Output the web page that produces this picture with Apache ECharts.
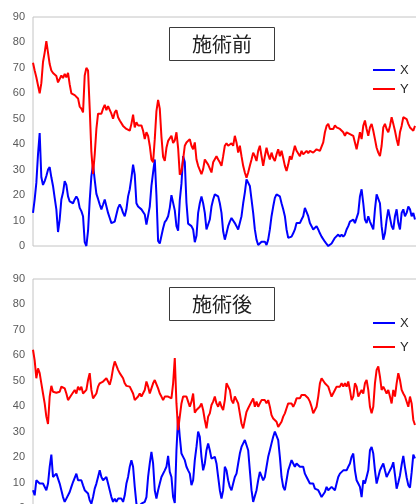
<!DOCTYPE html>
<html>
<head>
<meta charset="utf-8">
<script src="https://cdn.jsdelivr.net/npm/echarts@6/dist/echarts.min.js"></script>
<style>
  html, body { margin: 0; padding: 0; background: #fff; }
  #chart { width: 416px; height: 504px; }
</style>
</head>
<body>
<div id="chart"></div>
<script>
// y axis ticks (both panels)
const yTicks = [0, 10, 20, 30, 40, 50, 60, 70, 80, 90];
const seriesNames = ['X', 'Y'];
const panelTitles = ['施術前', '施術後'];

// 施術前 (before)
const beforeX = [
  13, 18.3, 24.8, 36, 44.4, 27, 24, 25.5, 27.5, 30,
  31, 27, 23.6, 18.9, 14.4, 5.5, 10.4, 18.3, 21, 25.5,
  24, 19.5, 17.5, 17, 16.8, 18.3, 19.5, 18.3, 15, 13.7,
  11.7, 1.5, 0, 6, 18, 27.5, 32, 26, 20.5, 18.5,
  16.3, 14.4, 16.3, 18.3, 18.6, 13, 11, 9, 9.6, 9.6,
  12.4, 15, 16.3, 15, 13, 11.7, 14.4, 19.5, 22.3, 26.8,
  32, 28, 16.8, 15.5, 15, 14.4, 13.7, 12.4, 8.4, 9,
  15.5, 23.6, 28.9, 34, 20, 2, 1, 1.5, 7, 9.4,
  10.3, 11.7, 15, 20, 20, 14, 7.8, 6, 18, 24.5,
  35.3, 33, 17, 8.8, 9, 7.8, 6.5, 1.5, 4, 13,
  16.8, 19.5, 16.8, 13, 6.5, 6.5,
  10.4, 15.5, 18.3, 20.3, 21, 19.5, 16.8, 13, 5.8, 2.5,
  5, 7.8, 9.6, 11, 10.4, 9, 7.8, 6.5, 7.1, 11.7,
  16.8, 21, 26.2, 26.2, 23.6, 18.3, 13, 6.5, 2.5, 0.4,
  1, 1.7, 1, 1.7, 0.4, 2.5, 6.5, 11.7, 15.5, 18.9,
  20.3, 21, 19.5, 16.8, 14.4, 11.7, 6.5, 3.2, 2.5, 3.7,
  5, 6.5, 9, 9.6, 9, 10.4, 11.7, 15, 14.4, 11.7,
  9, 7.8, 6.5, 7.1, 7.8, 6.5, 5, 3.7, 3.2, 1.7,
  0.8, 0, 0.4, 1, 1.3, 3.2, 2.5, 4.5, 3.7, 4.5,
  3.7, 4.5, 6.5, 7.8, 9.6, 9.6, 10.4, 9, 9.6, 13,
  19.5, 22.3, 16.8, 10.4, 9, 11.7, 9.6, 9, 6.5, 14.4,
  20.3, 21, 16.8, 7.8, 2.5, 5, 10.4, 14.4, 15, 7.8,
  6.5, 11.7, 14.4, 9, 6.5, 13, 14.4, 11.7, 13, 15.5,
  14.4, 11.7, 13, 10.4
];
const beforeY = [
  72, 69, 66.3, 65.7, 60, 64, 72.3, 76, 80.5, 81,
  71.5, 69, 68, 68, 66.8, 64.3, 65, 67, 66, 67.6,
  66.3, 68, 63.5, 60, 60.5, 59.3, 59.3, 58, 54.8, 54,
  52.5, 67, 70, 69, 54, 37, 28.3, 36, 46, 52,
  52.5, 52, 54, 55.5, 53.4, 55, 55.5, 52, 50, 52.5,
  53.4, 50.6, 49.3, 48.6, 47.2, 46.6, 46, 46.6, 45.3, 48,
  51.6, 46.6, 48.6, 47.4, 48, 47.4, 45.3, 42, 44.7, 43.3,
  39.4, 34, 32.9, 42, 53, 57.4, 54, 43, 35, 33.5,
  38.6, 41.3, 40.7, 43.3, 40.5, 41.5, 44.7, 38.5, 28, 29.5,
  34, 39.4, 40.7, 41.3, 42, 39.4, 38, 40.7, 34, 31.5,
  30.8, 28.2, 30.2, 34, 33.4, 32,
  31.5, 28.9, 32.9, 33.4, 35.3, 34, 32.9, 31.5, 35.3, 39.4,
  40.4, 39.4, 40, 40.4, 39.4, 43.3, 40.7, 36.7, 39.4, 35.3,
  31.5, 28.9, 26.8, 28.9, 31.5, 34, 36.7, 35.3, 33.4, 37.4,
  39.4, 35.3, 31.5, 35.3, 38.6, 36, 34, 36.7, 34.6, 33.4,
  36, 38, 35.3, 37.4, 34.6, 31.5, 29.5, 32, 35.3, 34,
  36.7, 39.4, 37.4, 36.7, 35.3, 37.4, 36, 36.7, 37.4, 36.5,
  37.4, 38, 36.7, 37.4, 38, 37.4, 37.4, 37.4, 40.7, 44.7,
  47.2, 48, 46, 46.6, 46, 47.4, 46.6, 47.2, 46, 46,
  44.7, 43.3, 44.7, 45.3, 44, 44.7, 43.3, 40.7, 38, 41.3,
  44.7, 42, 47.2, 49.3, 46, 43.3, 46.6, 48, 45.3, 42,
  38.6, 36.7, 35.3, 39.4, 46.6, 48, 46, 44.7, 47.2, 50.6,
  48, 45.3, 42, 39.4, 44.7, 47.2, 50.6, 51.2, 49.9, 48,
  46.6, 47.2, 45.3, 47.2
];

// 施術後 (after)
const afterX = [
  7, 5, 10.9, 11.5, 9.6, 9.6, 9.6, 10.2, 7, 9.6,
  16.2, 21, 12.2, 12.9, 13.5, 12.9, 9.6, 7, 4.3, 2.4,
  3.7, 4.3, 6.3, 8.3, 10.2, 10.9, 13.5, 10.9, 11.6, 10.9,
  8.9, 7, 7, 5.7, 3, 1.7, 4.3, 7.6, 9.6, 12.2,
  14.8, 12.2, 10.9, 10.9, 12.2, 9.6, 7, 4.3, 2.4, 3.7,
  2.4, 3.7, 3, 3.7, 2.4, 5, 9.6, 12.2, 16.2, 18.8,
  16.2, 8.3, 1.7, 0.4, 1, 1.7, 1, 2.4, 4.3, 12.2,
  17.5, 22.1, 17.5, 7, 3.7, 7, 9.6, 12.2, 12.9, 14.8,
  16.2, 20.5, 14.2, 12.2, 4.3, 2, 22.7, 35.9, 28, 21.4,
  20.1, 18.8, 16.2, 14.8, 13.5, 9, 10.9, 18.8, 24, 30,
  28, 20.1, 14.8, 17.5, 22.7, 25.4,
  22.7, 19.4, 18.8, 20.1, 17.5, 12.2, 7, 3.7, 7, 16.2,
  14.8, 10.9, 8.3, 7, 9.6, 12.2, 13.5, 17.5, 21.4, 24,
  25.4, 26.7, 26, 22.7, 14.8, 7, 2.4, 3, 7, 10.9,
  14.2, 13.5, 10.9, 12.2, 16.2, 20.1, 22.7, 25.4, 28, 30,
  30.6, 26.7, 20.1, 12.2, 8.3, 7, 10.9, 14.8, 16.8, 18.8,
  17.5, 16.2, 17.5, 17.5, 16.2, 15.5, 16.2, 13.5, 12.2, 10.9,
  9.6, 8.9, 9.6, 7.6, 7, 7, 5.7, 4.3, 5, 6.3,
  8.3, 7, 6.3, 8.3, 7.6, 7, 9.6, 12.2, 13.5, 12.9,
  14.8, 14.2, 14.8, 16.2, 17.5, 20.1, 21.4, 14.8, 10.9, 9.6,
  8.3, 4.3, 10.9, 9.6, 12.2, 14.8, 22.7, 24, 21.4, 14.8,
  9.6, 12.2, 14.8, 16.2, 17.5, 14.8, 12.2, 13.5, 14.8, 16,
  18, 13, 7.6, 10, 12.8, 17, 20.5, 16, 12, 9,
  8, 14, 21, 19.5
];
const afterY = [
  62.2, 58, 51, 54.9, 53, 49, 45, 41.1, 35.9, 33,
  43.8, 48, 45.7, 45, 45.3, 45, 45.7, 47.7, 48.4, 47,
  45, 42.4, 42.4, 44.4, 45, 46.4, 45, 47.7, 46.4, 47.7,
  45, 44.4, 46.4, 50.3, 53, 46.4, 43.1, 42.4, 45, 47.7,
  49, 49.7, 49.7, 50.3, 51, 49.7, 48.4, 51, 54.9, 57.6,
  56.9, 54.3, 53, 52.3, 51, 49, 48, 48.4, 47.7, 47.7,
  45, 42.4, 41.8, 43.8, 45, 43.8, 44.4, 46.4, 49.7, 47.7,
  45, 47, 49, 50.3, 49.7, 47, 45, 43.8, 42.4, 43.8,
  44.4, 43.8, 44.4, 43.1, 49, 58.9, 41.1, 30.6, 35.9, 41.1,
  43.8, 44.4, 43.8, 41.8, 39.8, 41.8, 45, 37.5, 38.5, 39.2,
  39.8, 41.1, 38.5, 34.6, 31.3, 35.9,
  37.2, 40.5, 41.8, 43.8, 41.1, 39.8, 41.8, 39.8, 38.5, 42.4,
  49, 48.4, 46.4, 42.4, 41.1, 43.8, 43.1, 41.1, 37.2, 33.2,
  31.3, 34.6, 37.8, 39.2, 39.8, 41.8, 43.1, 39.8, 41.8, 39.8,
  41.1, 42.4, 41.8, 42.4, 41.1, 42.4, 39.8, 36.5, 35.2, 35.9,
  33.9, 31.9, 32.6, 33.9, 35.9, 37.2, 39.2, 41.1, 40.5, 41.1,
  39.8, 41.1, 43.1, 43.8, 43.1, 44.4, 45, 44.4, 45, 43.1,
  41.8, 39.8, 37.2, 36.5, 39.8, 43.8, 49, 51, 50.3, 49,
  49.7, 47.7, 45.7, 43.8, 44.4, 46.4, 47.7, 48.4, 47.7, 49,
  47.7, 49, 47.7, 49.7, 46.4, 42.4, 43.8, 49, 47.7, 43.8,
  44.4, 46.4, 45, 49, 50.3, 46.4, 39.8, 37.2, 39.8, 49,
  54.3, 55.6, 51.6, 46.4, 47.7, 46.4, 45, 46.4, 43.8, 41.1,
  46.4, 43.8, 49, 53, 50.3, 46.4, 45, 43.8, 43.1, 39.8,
  43.8, 41.1, 34.6, 32.6
];

// the plot runs on past the right edge of the picture
const samples = [];
for (let i = 1; i <= beforeX.length + 12; i++) samples.push(i);

const chart = echarts.init(document.getElementById('chart'), null, { renderer: 'canvas' });

const labelFont = 'Liberation Sans, Arial, sans-serif';
const grids = [
  { left: 33, top: 17, width: 402, height: 229 },
  { left: 33, top: 279, width: 402, height: 229 }
];

function panelAxes(i) {
  return {
    x: {
      type: 'category', gridIndex: i, data: samples, boundaryGap: false,
      axisLine: { show: false }, axisTick: { show: false }, axisLabel: { show: false },
      splitLine: { show: false }
    },
    y: {
      type: 'value', gridIndex: i, min: yTicks[0], max: yTicks[yTicks.length - 1], interval: 10,
      axisLine: { show: false }, axisTick: { show: false }, splitLine: { show: false },
      axisLabel: { color: '#595959', fontSize: 11, fontFamily: labelFont, margin: 8 }
    }
  };
}

function lineSeries(name, data, i, color) {
  return {
    name: name, type: 'line', data: data, xAxisIndex: i, yAxisIndex: i,
    showSymbol: false, symbol: 'none', color: color,
    lineStyle: { width: 2, color: color }, emphasis: { disabled: true }
  };
}

function panelTitle(text, top) {
  return {
    text: text, left: 169, top: top,
    borderColor: '#3a3a3a', borderWidth: 1, padding: [7, 23, 7, 23],
    textStyle: { fontFamily: 'Noto Sans CJK JP', fontSize: 20, fontWeight: 'normal', color: '#222', lineHeight: 20 }
  };
}

function panelLegend(top, gap) {
  return {
    data: seriesNames, orient: 'vertical', left: 368, top: top, itemGap: gap,
    icon: 'rect', itemWidth: 22, itemHeight: 2, selectedMode: false,
    textStyle: { fontFamily: labelFont, fontSize: 13, color: '#262626', lineHeight: 14 }
  };
}

const a0 = panelAxes(0), a1 = panelAxes(1);

chart.setOption({
  animation: false,
  backgroundColor: '#fff',
  title: [panelTitle(panelTitles[0], 27), panelTitle(panelTitles[1], 287)],
  legend: [panelLegend(58, 5), panelLegend(311, 10)],
  grid: grids.map(g => Object.assign({
    show: true, borderColor: '#c4c4c4', borderWidth: 1, outerBoundsMode: 'none', containLabel: false
  }, g)),
  xAxis: [a0.x, a1.x],
  yAxis: [a0.y, a1.y],
  series: [
    lineSeries(seriesNames[0], beforeX, 0, '#0000ff'),
    lineSeries(seriesNames[1], beforeY, 0, '#ff0000'),
    lineSeries(seriesNames[0], afterX, 1, '#0000ff'),
    lineSeries(seriesNames[1], afterY, 1, '#ff0000')
  ]
});
</script>
</body>
</html>
